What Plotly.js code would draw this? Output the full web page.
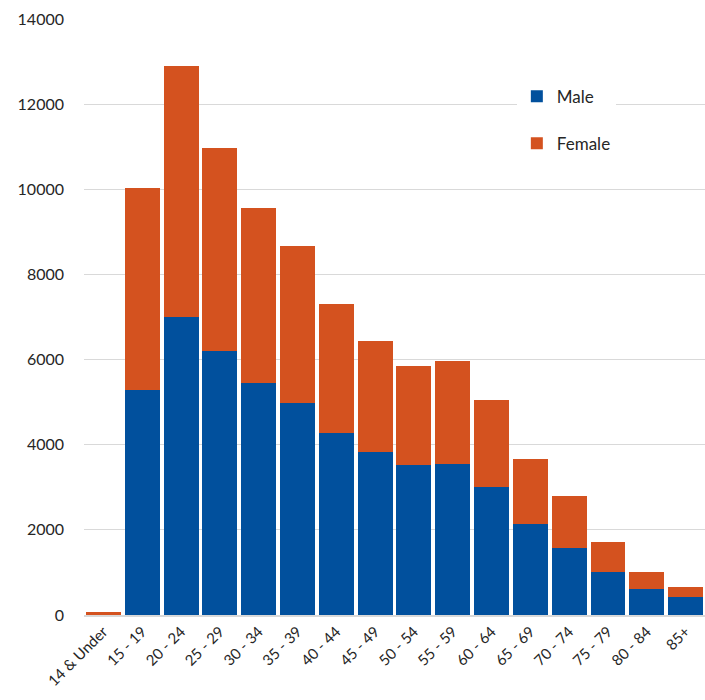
<!DOCTYPE html>
<html><head><meta charset="utf-8">
<script src="https://cdn.plot.ly/plotly-3.0.1.min.js"></script>
<style>html,body{margin:0;padding:0;background:#fff}</style>
</head><body>
<div id="chart" style="width:705px;height:700px"></div>
<script>
const categories = ["14 & Under","15 - 19","20 - 24","25 - 29","30 - 34","35 - 39","40 - 44","45 - 49","50 - 54","55 - 59","60 - 64","65 - 69","70 - 74","75 - 79","80 - 84","85+"];
const male   = [10, 5290, 7010, 6200, 5450, 4980, 4280, 3830, 3530, 3550, 3000, 2140, 1580, 1010, 610, 420];
const female = [70, 4740, 5890, 4770, 4110, 3690, 3030, 2610, 2320, 2420, 2050, 1530, 1220, 710, 400, 240];
const tickVals = [0,2000,4000,6000,8000,10000,12000,14000];
const tickText = ["0","2000","4000","6000","8000","10000","12000","14000"];

const font = {family: "Lato, Open Sans, sans-serif", size: 16, color: "#262626"};
const data = [
  {type:"bar", name:"Male", x:categories, y:male, marker:{color:"#01509D"}, legendgroup:"m"},
  {type:"bar", name:"Female", x:categories, y:female, marker:{color:"#D4521F"}, legendgroup:"f"}
];
const layout = {
  width:705, height:700,
  margin:{l:84, r:0, t:19, b:85},
  barmode:"stack", bargap:0.1,
  paper_bgcolor:"#fff", plot_bgcolor:"#fff",
  font:font,
  showlegend:true,
  legend:{x:0.697, y:0.9, xanchor:"left", yanchor:"top", bgcolor:"#fff",
          traceorder:"grouped", tracegroupgap:22, font:{family:font.family, size:17, color:"#262626"}},
  xaxis:{tickangle:-45, showgrid:false, showline:true, linecolor:"#d9d9d9", linewidth:2,
         ticks:"", tickfont:{size:15, color:"#262626"}, automargin:false},
  yaxis:{range:[0,14000], tickvals:tickVals, ticktext:tickText, showgrid:true, gridcolor:"#d9d9d9", gridwidth:1,
         zeroline:false, ticks:"", ticklabelstandoff:19, tickfont:{size:16, color:"#262626"},
         automargin:false}
};
Plotly.newPlot("chart", data, layout, {displayModeBar:false, staticPlot:true});
</script>
</body></html>
